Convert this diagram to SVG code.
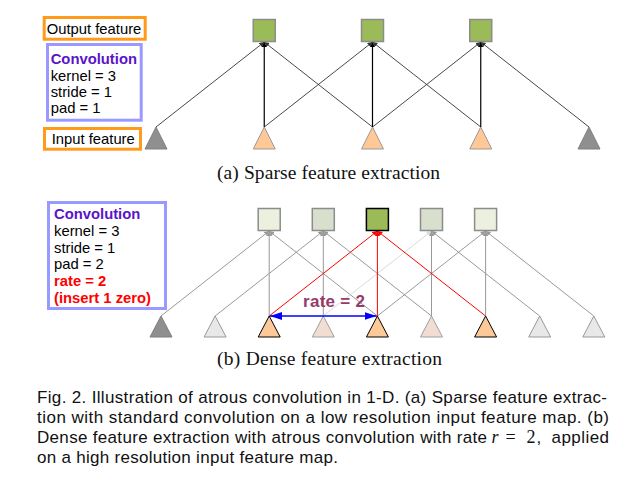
<svg xmlns="http://www.w3.org/2000/svg" width="635" height="477" viewBox="0 0 635 477">
<defs>
<marker id="ah-k" markerUnits="userSpaceOnUse" markerWidth="8" markerHeight="8" refX="5" refY="2.5" orient="auto"><path d="M0,0 L5,2.5 L0,5 Z" fill="#000"/></marker>
<marker id="ah-d" markerUnits="userSpaceOnUse" markerWidth="8" markerHeight="8" refX="5" refY="2.5" orient="auto"><path d="M0,0 L5,2.5 L0,5 Z" fill="#333"/></marker>
<marker id="ah-g" markerUnits="userSpaceOnUse" markerWidth="8" markerHeight="8" refX="5" refY="2.5" orient="auto"><path d="M0,0 L5,2.5 L0,5 Z" fill="#999"/></marker>
<marker id="ah-f" markerUnits="userSpaceOnUse" markerWidth="8" markerHeight="8" refX="5" refY="2.5" orient="auto"><path d="M0,0 L5,2.5 L0,5 Z" fill="#d9d9d9"/></marker>
<marker id="ah-r" markerUnits="userSpaceOnUse" markerWidth="8" markerHeight="8" refX="5" refY="2.5" orient="auto"><path d="M0,0 L5,2.5 L0,5 Z" fill="#ff0000"/></marker>
<marker id="ah-b" markerUnits="userSpaceOnUse" markerWidth="14" markerHeight="10" refX="12" refY="4" orient="auto-start-reverse"><path d="M0,0 L12,4 L0,8 Z" fill="#0000ff"/></marker>
</defs>
<style>
.lbl{font-family:"Liberation Sans",Arial,sans-serif;font-size:14.8px;fill:#000}
.b{font-weight:bold}
.conv{fill:#5a14c8}
.red{fill:#ff0000}
.obox{fill:#fff;stroke:#ff9a1a;stroke-width:3}
.bbox{fill:#fff;stroke:#9999ff;stroke-width:3}
.la-v{stroke:#000;stroke-width:1.2;marker-end:url(#ah-k)}
.la-d{stroke:#333;stroke-width:0.9;marker-end:url(#ah-d)}
.lb-g{stroke:#999;stroke-width:1;marker-end:url(#ah-g)}
.lb-f{stroke:#d9d9d9;stroke-width:1;marker-end:url(#ah-f)}
.lb-r{stroke:#ff0000;stroke-width:1;marker-end:url(#ah-r)}
.sq{stroke:#8c8c8c;stroke-width:1.5}
.green{fill:#9bbb59}
.pale{fill:#ebf1de}
.grey-g{fill:#d8dfcc}
.t-dark{fill:#8f8f8f;stroke:#7f7f7f;stroke-width:1}
.t-orange-a{fill:#ffc896;stroke:#999;stroke-width:1}
.t-orange-b{fill:#fdc998;stroke:#000;stroke-width:1}
.t-light{fill:#e8e8e8;stroke:#999;stroke-width:1}
.t-peach{fill:#f1ddd1;stroke:#a0a0a0;stroke-width:1}
.serif{font-family:"Liberation Serif","Times New Roman",serif;font-size:19.5px;fill:#111}
.cap{font-family:"Liberation Sans",Arial,sans-serif;font-size:17px;fill:#111}
.math{font-family:"Liberation Serif","Times New Roman",serif;font-size:18px;fill:#111}
</style>

<!-- Part (a) labels -->
<g id="a-output-label"><rect class="obox" x="44.2" y="17.5" width="101" height="21.7"/><text class="lbl" x="46.7" y="34">Output feature</text></g>
<g id="a-conv-label"><rect class="bbox" x="47.5" y="44.5" width="93.7" height="75.7"/>
<text class="lbl b conv" x="50.7" y="64">Convolution</text>
<text class="lbl" x="50.7" y="80.5">kernel = 3</text>
<text class="lbl" x="50.7" y="96.8">stride = 1</text>
<text class="lbl" x="50.7" y="113">pad = 1</text></g>
<g id="a-input-label"><rect class="obox" x="44.5" y="128.5" width="96" height="20.7"/><text class="lbl" x="51.7" y="144">Input feature</text></g>

<!-- Part (a) connectors -->
<g id="a-connectors" fill="none">
<line class="la-d" x1="156" y1="127" x2="264.25" y2="42"/>
<line class="la-v" x1="264.25" y1="127" x2="264.25" y2="42"/>
<line class="la-d" x1="372.5" y1="127" x2="264.25" y2="42"/>
<line class="la-d" x1="264.25" y1="127" x2="372.5" y2="42"/>
<line class="la-v" x1="372.5" y1="127" x2="372.5" y2="42"/>
<line class="la-d" x1="480.75" y1="127" x2="372.5" y2="42"/>
<line class="la-d" x1="372.5" y1="127" x2="480.75" y2="42"/>
<line class="la-v" x1="480.75" y1="127" x2="480.75" y2="42"/>
<line class="la-d" x1="589" y1="127" x2="480.75" y2="42"/>
</g>

<!-- Part (a) nodes -->
<g id="a-out1"><rect class="sq green" x="253.25" y="19.5" width="22" height="22"/></g>
<g id="a-out2"><rect class="sq green" x="361.5" y="19.5" width="22" height="22"/></g>
<g id="a-out3"><rect class="sq green" x="469.75" y="19.5" width="22" height="22"/></g>
<g id="a-in0"><path class="t-dark" d="M156,127 L167,149 L145,149 Z"/></g>
<g id="a-in1"><path class="t-orange-a" d="M264.25,127 L275.25,149 L253.25,149 Z"/></g>
<g id="a-in2"><path class="t-orange-a" d="M372.5,127 L383.5,149 L361.5,149 Z"/></g>
<g id="a-in3"><path class="t-orange-a" d="M480.75,127 L491.75,149 L469.75,149 Z"/></g>
<g id="a-in4"><path class="t-dark" d="M589,127 L600,149 L578,149 Z"/></g>

<text class="serif" x="217" y="179" textLength="223">(a) Sparse feature extraction</text>

<!-- Part (b) label -->
<g id="b-conv-label"><rect class="bbox" x="48.5" y="202.5" width="117" height="106"/>
<text class="lbl b conv" x="54" y="219.3">Convolution</text>
<text class="lbl" x="54" y="236">kernel = 3</text>
<text class="lbl" x="54" y="252.7">stride = 1</text>
<text class="lbl" x="54" y="269.3">pad = 2</text>
<text class="lbl b red" x="54" y="286">rate = 2</text>
<text class="lbl b red" x="54" y="302.7">(insert 1 zero)</text></g>

<!-- Part (b) connectors -->
<g id="b-connectors" fill="none">
<line class="lb-g" x1="161" y1="316" x2="269.2" y2="231"/>
<line class="lb-g" x1="269.2" y1="316" x2="269.2" y2="231"/>
<line class="lb-g" x1="377.4" y1="316" x2="269.2" y2="231"/>
<line class="lb-g" x1="215.1" y1="316" x2="323.3" y2="231"/>
<line class="lb-g" x1="323.3" y1="316" x2="323.3" y2="231"/>
<line class="lb-g" x1="431.5" y1="316" x2="323.3" y2="231"/>
<line class="lb-f" x1="323.3" y1="316" x2="431.5" y2="231"/>
<line class="lb-g" x1="431.5" y1="316" x2="431.5" y2="231"/>
<line class="lb-g" x1="539.7" y1="316" x2="431.5" y2="231"/>
<line class="lb-g" x1="377.4" y1="316" x2="485.6" y2="231"/>
<line class="lb-g" x1="485.6" y1="316" x2="485.6" y2="231"/>
<line class="lb-g" x1="593.8" y1="316" x2="485.6" y2="231"/>
<line class="lb-r" x1="269.2" y1="316" x2="377.4" y2="231"/>
<line class="lb-r" x1="377.4" y1="316" x2="377.4" y2="231"/>
<line class="lb-r" x1="485.6" y1="316" x2="377.4" y2="231"/>
</g>

<!-- Part (b) nodes -->
<g id="b-out0"><rect class="sq pale" x="258.2" y="208.5" width="22" height="22"/></g>
<g id="b-out1"><rect class="sq grey-g" x="312.3" y="208.5" width="22" height="22"/></g>
<g id="b-out2"><rect class="green" x="366.4" y="208.5" width="22" height="22" stroke="#000" stroke-width="1.5"/></g>
<g id="b-out3"><rect class="sq grey-g" x="420.5" y="208.5" width="22" height="22"/></g>
<g id="b-out4"><rect class="sq pale" x="474.6" y="208.5" width="22" height="22"/></g>

<g id="b-in0"><path class="t-dark" d="M161,316 L172,337 L150,337 Z"/></g>
<g id="b-in1"><path class="t-light" d="M215.1,316 L226.1,337 L204.1,337 Z"/></g>
<g id="b-in2"><path class="t-orange-b" d="M269.2,316 L280.2,337 L258.2,337 Z"/></g>
<g id="b-in3"><path class="t-peach" d="M323.3,316 L334.3,337 L312.3,337 Z"/></g>
<g id="b-in4"><path class="t-orange-b" d="M377.4,316 L388.4,337 L366.4,337 Z"/></g>
<g id="b-in5"><path class="t-peach" d="M431.5,316 L442.5,337 L420.5,337 Z"/></g>
<g id="b-in6"><path class="t-orange-b" d="M485.6,316 L496.6,337 L474.6,337 Z"/></g>
<g id="b-in7"><path class="t-light" d="M539.7,316 L550.7,337 L528.7,337 Z"/></g>
<g id="b-in8"><path class="t-light" d="M593.8,316 L604.8,337 L582.8,337 Z"/></g>

<g id="b-rate-arrow">
<line x1="270" y1="316" x2="376.6" y2="316" stroke="#0000ff" stroke-width="1.7" marker-start="url(#ah-b)" marker-end="url(#ah-b)"/>
<text x="303" y="306.7" textLength="62" style="font-family:'Liberation Sans',Arial,sans-serif;font-size:17px;font-weight:bold;fill:#953a6a">rate = 2</text>
</g>

<text class="serif" x="217" y="365" textLength="225">(b) Dense feature extraction</text>

<!-- Figure caption -->
<text class="cap" x="37" y="403" textLength="570">Fig. 2. Illustration of atrous convolution in 1-D. (a) Sparse feature extrac-</text>
<text class="cap" x="37" y="423" textLength="572">tion with standard convolution on a low resolution input feature map. (b)</text>
<text class="cap" x="37" y="443" textLength="450">Dense feature extraction with atrous convolution with rate</text>
<text class="math" x="491.5" y="443" font-style="italic">r</text>
<text class="math" x="505.5" y="443">=</text>
<text class="math" x="526.5" y="443">2</text>
<text class="cap" x="536.5" y="443">,</text>
<text class="cap" x="551.5" y="443" textLength="57.5">applied</text>
<text class="cap" x="37" y="463" textLength="301">on a high resolution input feature map.</text>
</svg>
